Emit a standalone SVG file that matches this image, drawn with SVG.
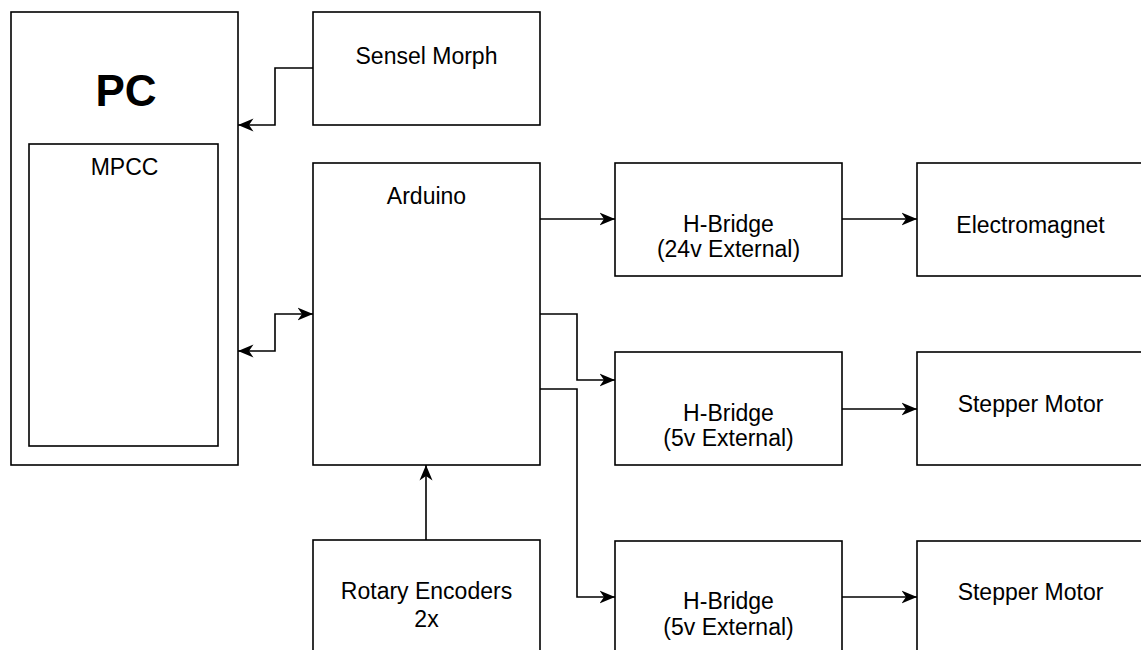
<svg xmlns="http://www.w3.org/2000/svg" width="1141" height="650" viewBox="0 0 1141 650">
<style>
.box{fill:#fff;stroke:#000;stroke-width:1.6}
.lbl{font-family:"Liberation Sans",Arial,sans-serif;font-size:23px;fill:#000;text-anchor:middle}
.big{font-family:"Liberation Sans",Arial,sans-serif;font-size:44px;font-weight:bold;fill:#000;text-anchor:middle}
.edge{fill:none;stroke:#000;stroke-width:1.6}
</style>
<defs>
<marker id="arr" markerUnits="userSpaceOnUse" markerWidth="16" markerHeight="14" viewBox="0 0 16 14" refX="15.5" refY="7" orient="auto-start-reverse">
<path d="M0,0.5 L15.5,7 L0,13.5 L4.5,7 Z" fill="#000"/>
</marker>
</defs>
<rect width="1141" height="650" fill="#fff"/>
<g id="pc">
<rect class="box" x="11" y="12" width="227" height="453"/>
<text class="big" x="126" y="106">PC</text>
</g>
<g id="mpcc">
<rect class="box" x="29" y="144" width="189" height="302"/>
<text class="lbl" x="124.5" y="175">MPCC</text>
</g>
<g id="sensel">
<rect class="box" x="313" y="12" width="227" height="113"/>
<text class="lbl" x="426.5" y="64">Sensel Morph</text>
</g>
<g id="arduino">
<rect class="box" x="313" y="163" width="227" height="302"/>
<text class="lbl" x="426.5" y="204">Arduino</text>
</g>
<g id="hb1">
<rect class="box" x="615" y="163" width="227" height="113"/>
<text class="lbl" x="728.5" y="231.5">H-Bridge</text>
<text class="lbl" x="728.5" y="256.5">(24v External)</text>
</g>
<g id="electromagnet">
<rect class="box" x="917" y="163" width="227" height="113"/>
<text class="lbl" x="1030.5" y="232.5">Electromagnet</text>
</g>
<g id="hb2">
<rect class="box" x="615" y="352" width="227" height="113"/>
<text class="lbl" x="728.5" y="420.5">H-Bridge</text>
<text class="lbl" x="728.5" y="445.5">(5v External)</text>
</g>
<g id="stepper1">
<rect class="box" x="917" y="352" width="227" height="113"/>
<text class="lbl" x="1030.5" y="411.5">Stepper Motor</text>
</g>
<g id="hb3">
<rect class="box" x="615" y="541" width="227" height="113"/>
<text class="lbl" x="728.5" y="609">H-Bridge</text>
<text class="lbl" x="728.5" y="634.5">(5v External)</text>
</g>
<g id="stepper2">
<rect class="box" x="917" y="541" width="227" height="113"/>
<text class="lbl" x="1030.5" y="600">Stepper Motor</text>
</g>
<g id="rotary">
<rect class="box" x="313" y="540" width="227" height="113"/>
<text class="lbl" x="426.5" y="599">Rotary Encoders</text>
<text class="lbl" x="426.5" y="627">2x</text>
</g>
<g id="connectors">
<path class="edge" d="M313,68 H275 V125 H238" marker-end="url(#arr)"/>
<path class="edge" d="M238,351 H275 V314 H313" marker-start="url(#arr)" marker-end="url(#arr)"/>
<path class="edge" d="M540,219 H615" marker-end="url(#arr)"/>
<path class="edge" d="M540,314 H577 V380 H615" marker-end="url(#arr)"/>
<path class="edge" d="M540,389 H577 V597 H615" marker-end="url(#arr)"/>
<path class="edge" d="M842,219 H917" marker-end="url(#arr)"/>
<path class="edge" d="M842,409 H917" marker-end="url(#arr)"/>
<path class="edge" d="M842,597 H917" marker-end="url(#arr)"/>
<path class="edge" d="M426,540 V465" marker-end="url(#arr)"/>
</g>
</svg>
